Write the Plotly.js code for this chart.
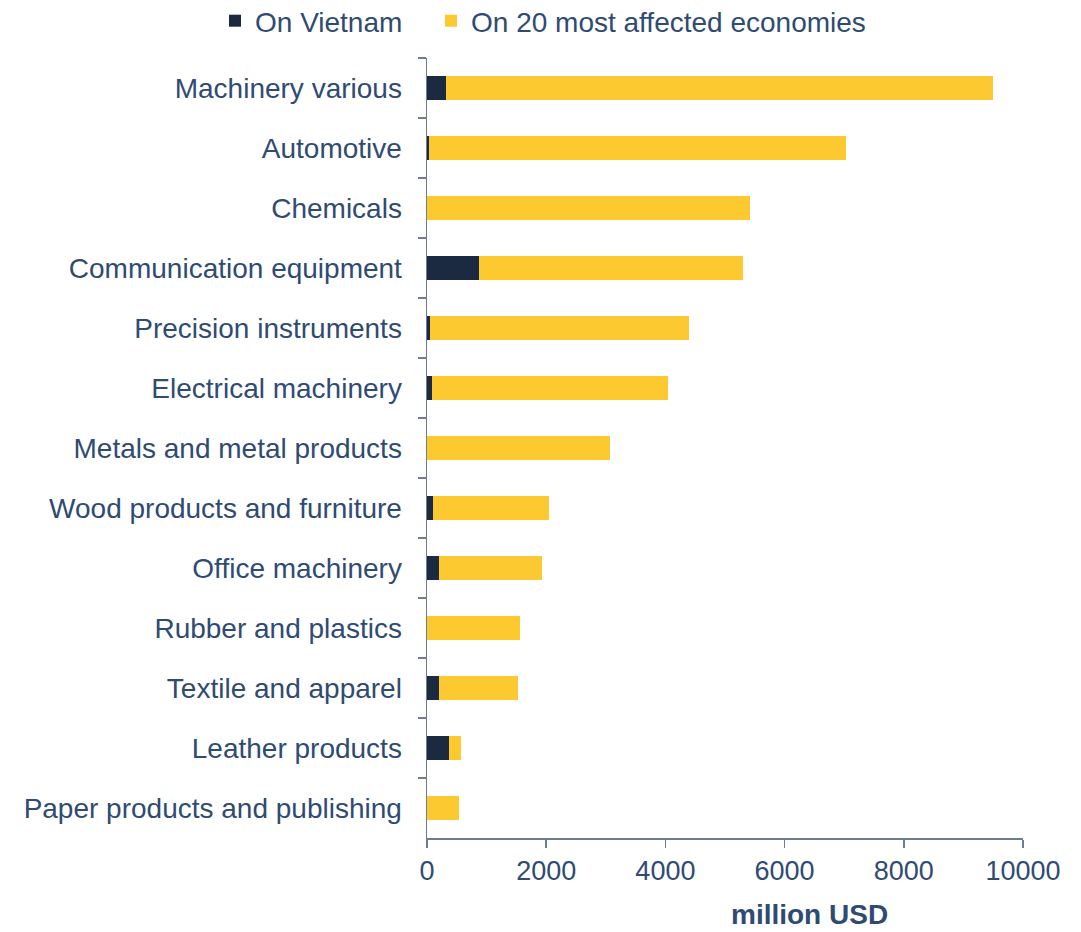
<!DOCTYPE html>
<html>
<head>
<meta charset="utf-8">
<script src="https://cdn.plot.ly/plotly-3.0.1.min.js"></script>
<style>html,body{margin:0;padding:0;background:#fff;}#chart{width:1081px;height:932px;}</style>
</head>
<body>
<div id="chart"></div>
<script>
const categories = [
  "Machinery various",
  "Automotive",
  "Chemicals",
  "Communication equipment",
  "Precision instruments",
  "Electrical machinery",
  "Metals and metal products",
  "Wood products and furniture",
  "Office machinery",
  "Rubber and plastics",
  "Textile and apparel",
  "Leather products",
  "Paper products and publishing"
];
const onVietnam = [320, 35, 0, 877, 55, 84, 0, 100, 201, 0, 201, 364, 0];
const on20Economies = [9170, 6990, 5420, 4425, 4335, 3955, 3070, 1946, 1722, 1555, 1325, 206, 537];
const xTickVals = [0, 2000, 4000, 6000, 8000, 10000];
const xTickText = ["0", "2000", "4000", "6000", "8000", "10000"];

const textColor = "#2F4B73";
const axisColor = "#6E7C90";
const fontFam = "Liberation Sans, Arial, sans-serif";

const data = [
  {
    type: "bar", orientation: "h", name: "On Vietnam",
    y: categories, x: onVietnam, legend: "legend",
    marker: {color: "#1B2A41"}, width: 0.4
  },
  {
    type: "bar", orientation: "h", name: "On 20 most affected economies",
    y: categories, x: on20Economies, legend: "legend2",
    marker: {color: "#FCC931"}, width: 0.4
  }
];

const legendBase = {
  orientation: "h", xref: "container", yref: "container",
  xanchor: "left", yanchor: "middle",
  font: {size: 28, color: textColor},
  bgcolor: "rgba(0,0,0,0)", borderwidth: 0
};

const layout = {
  width: 1081, height: 932,
  barmode: "stack",
  paper_bgcolor: "#fff", plot_bgcolor: "#fff",
  font: {family: fontFam, size: 28, color: textColor},
  margin: {l: 427, r: 58, t: 58, b: 94, pad: 0},
  xaxis: {
    range: [0, 10000], tickvals: xTickVals, ticktext: xTickText,
    showgrid: false, zeroline: false,
    showline: true, linecolor: axisColor, linewidth: 1.5,
    ticks: "outside", ticklen: 8, tickcolor: axisColor, tickwidth: 1.5,
    tickfont: {size: 27, color: textColor}, ticklabelstandoff: 0
  },
  yaxis: {
    autorange: "reversed", type: "category",
    showgrid: false, zeroline: false,
    showline: true, linecolor: axisColor, linewidth: 1.5,
    ticks: "outside", tickson: "boundaries", ticklen: 8, tickcolor: axisColor, tickwidth: 1.5,
    tickfont: {size: 28, color: textColor}, ticklabelstandoff: 18
  },
  showlegend: true,
  legend: Object.assign({}, legendBase, {x: 215/1081, y: 1 - 21/932}),
  legend2: Object.assign({}, legendBase, {x: 431/1081, y: 1 - 21/932}),
  annotations: [{
    xref: "paper", yref: "paper", x: (809-427)/596, y: -(931-838)/780,
    xanchor: "center", yanchor: "bottom", showarrow: false, borderpad: 0,
    text: "<b>million USD</b>", font: {size: 28, color: textColor}
  }]
};

Plotly.newPlot("chart", data, layout, {displayModeBar: false, staticPlot: true});
</script>
</body>
</html>
